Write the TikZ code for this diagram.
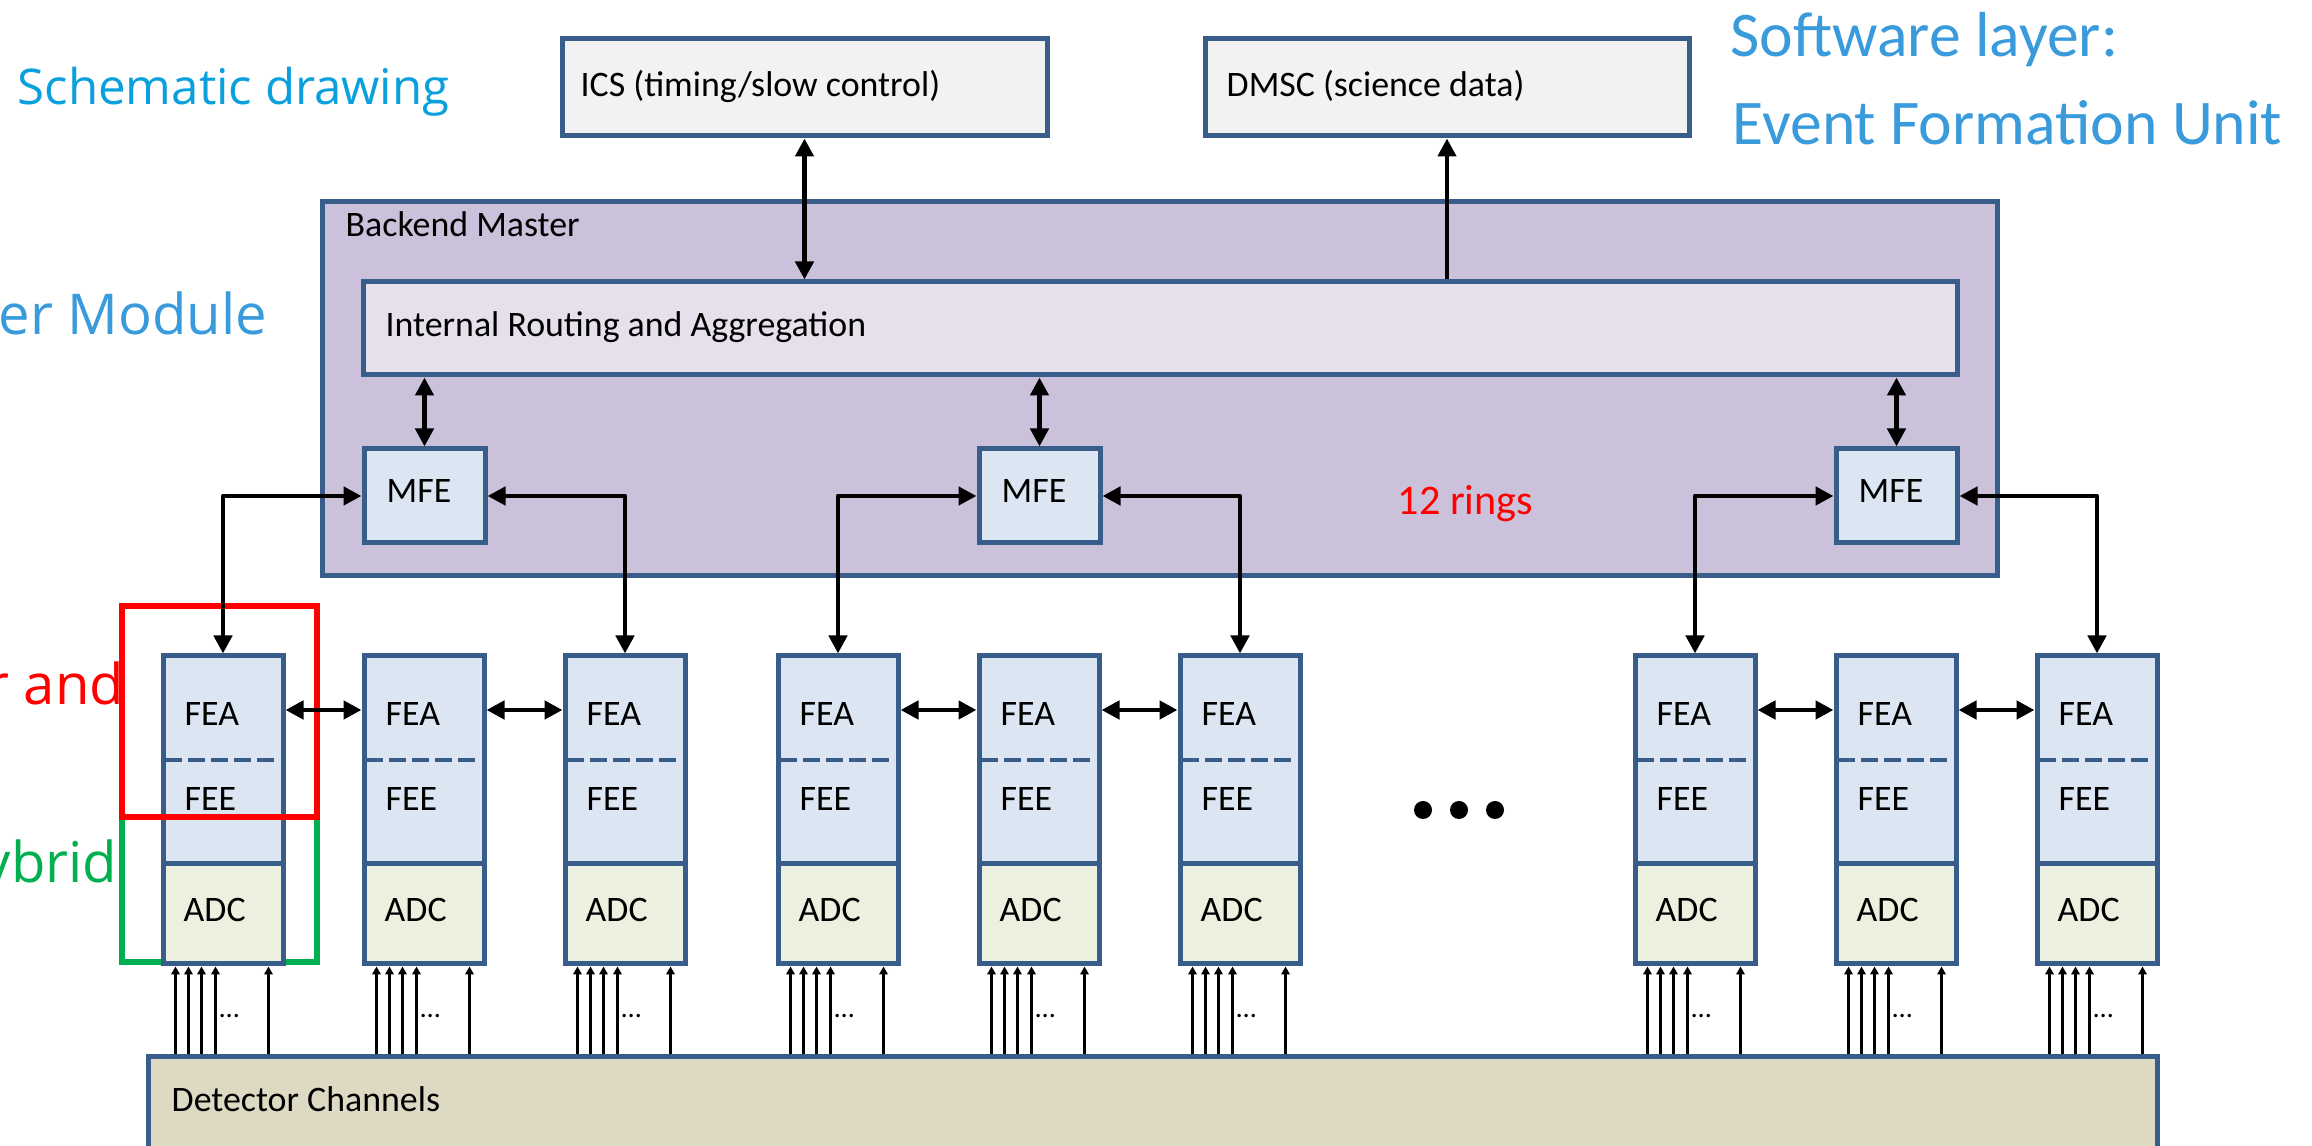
\documentclass[tikz,border=0pt]{standalone}
\usepackage{fontspec}
\setmainfont{Carlito}
\newfontfamily\osans{Open Sans}
\usetikzlibrary{arrows.meta,fit,calc}
\definecolor{bordc}{HTML}{385D8A}
\definecolor{hostfill}{HTML}{F2F2F2}
\definecolor{bmfill}{HTML}{CCC1DA}
\definecolor{intfill}{HTML}{E5E0EC}
\definecolor{fefill}{HTML}{DCE6F2}
\definecolor{adcfill}{HTML}{EBF1DE}
\definecolor{detfill}{HTML}{DDD9C3}
\definecolor{titlecyan}{HTML}{0AA0DE}
\definecolor{titleblue}{HTML}{3A9BDC}
\definecolor{hlred}{HTML}{FF0000}
\definecolor{hlgreen}{HTML}{00B050}
\tikzset{
  blk/.style={draw=bordc, line width=0.5mm, inner sep=0pt},
  lbl/.style={inner sep=0pt, font=\fontsize{10.2}{12}\selectfont, text=black},
  sidelbl/.style={inner sep=0pt, font=\osans\fontsize{16}{19}\selectfont},
  swlbl/.style={inner sep=0pt, font=\fontsize{18.1}{21}\selectfont, text=titleblue},
  bigarr/.style={line width=0.48mm, line join=round, >={Triangle[length=1.8mm,width=1.8mm]}},
  inarr/.style={line width=0.22mm, ->, >={Triangle[length=0.8mm,width=0.85mm]}},
  dashline/.style={draw=bordc, line width=0.48mm, dash pattern=on 1.7mm off 0.6mm},
  hlbox/.style={line width=0.6mm, inner sep=0pt},
  chdots/.style={inner sep=0pt, font=\fontsize{8}{9}\selectfont},
}
\begin{document}
\begin{tikzpicture}[x=0.1mm,y=-0.1mm]
\clip (0,0) rectangle (2312,1146);
\fill[white] (0,0) rectangle (2312,1146);

% side titles
\node[sidelbl, text=titlecyan, font=\osans\fontsize{14}{17}\selectfont, anchor=base west] (ttl) at (17,105) {Schematic drawing};
\node[sidelbl, text=titleblue, anchor=base west] (modlbl) at (-2,335) {er Module};
\node[sidelbl, text=hlred, anchor=base east] (andlbl) at (125,705) {r and};
\node[sidelbl, text=hlgreen, anchor=base east] (hyblbl) at (118,883) {ybrid};
\node[swlbl, anchor=base west] (sw1) at (1730,57) {Software layer:};
\node[swlbl, anchor=base west] (sw2) at (1732,145) {Event Formation Unit};

% host systems
\node[blk, fill=hostfill, fit={(562,39) (1047,136)}] (ics) {};
\node[lbl, anchor=base west] (icst) at (580,97) {ICS (timing/slow control)};
\node[blk, fill=hostfill, fit={(1205,39) (1689,136)}] (dmsc) {};
\node[lbl, anchor=base west] (dmsct) at (1226,97) {DMSC (science data)};

% backend master
\node[blk, fill=bmfill, fit={(322,202) (1997,576)}] (bm) {};
\node[lbl, anchor=base west] (bmt) at (345,237) {Backend Master};
\node[blk, fill=intfill, fit={(363,282) (1957,375)}] (int) {};
\node[lbl, anchor=base west] (intt) at (385,337) {Internal Routing and Aggregation};
\node[inner sep=0pt, font=\fontsize{12}{14}\selectfont, text=hlred, anchor=base west] (rings) at (1397,515) {12 rings};

\foreach \i/\x in {1/364,2/979,3/1836}{
  \pgfmathsetmacro\xr{\x+121}
  \node[blk, fill=fefill, fit={(\x,449) (\xr,543)}] (mfe\i) {};
  \node[lbl, anchor=base west] (mfet\i) at (\x+22,503) {MFE};
}

% detector channels
\node[blk, fill=detfill, fit={(148,1057) (2157,1190)}] (det) {};
\node[lbl, anchor=base west] (dett) at (171,1112) {Detector Channels};

% highlight frames
\node[hlbox, draw=hlgreen, fit={(122,817) (317,962)}] (hybox) {};

% front-end columns
\foreach \i/\x in {1/163,2/364,3/565,4/778,5/979,6/1180,7/1635,8/1836,9/2037}{
  \pgfmathsetmacro\xr{\x+120}
  \node[blk, fill=fefill, fit={(\x,656) (\xr,864)}] (fe\i) {};
  \node[blk, fill=adcfill, fit={(\x,864) (\xr,964)}] (adc\i) {};
  \draw[dashline] (\x+2,760) -- (\x+111,760);
  \node[lbl, anchor=base west] (fea\i) at (\x+21,726) {FEA};
  \node[lbl, anchor=base west] (fee\i) at (\x+21,811) {FEE};
  \node[lbl, anchor=base west] (adct\i) at (\x+20,922) {ADC};
  \foreach \o in {15,28,41,55,108}{
    \draw[inarr] ([xshift=\o*0.1mm]adc\i.south west |- det.north) -- ([xshift=\o*0.1mm]adc\i.south west);
  }
  \node[chdots, anchor=base west] (chd\i) at (\x+56,1018) {…};
}

\node[hlbox, draw=hlred, fit={(122,606) (317,817)}] (febox) {};

% connections to the hosts
\draw[bigarr,<->] (ics.south) -- (ics.south |- int.north);
\draw[bigarr,->] (dmsc.south |- int.north) -- (dmsc.south);

% rings
\foreach \m/\a/\b in {1/1/3,2/4/6,3/7/9}{
  \draw[bigarr,<->] (mfe\m.north) -- (mfe\m.north |- int.south);
  \draw[bigarr,<->] (fe\a.north) |- (mfe\m.west);
  \draw[bigarr,<->] (mfe\m.east) -| (fe\b.north);
}
\foreach \a/\b in {1/2,2/3,4/5,5/6,7/8,8/9}{
  \draw[bigarr,<->] ([yshift=5mm]fe\a.east) -- ([yshift=5mm]fe\b.west);
}

% more rings
\foreach \cx in {1423,1459,1495}{
  \fill (\cx,810) circle (0.9mm);
}
\end{tikzpicture}
\end{document}
